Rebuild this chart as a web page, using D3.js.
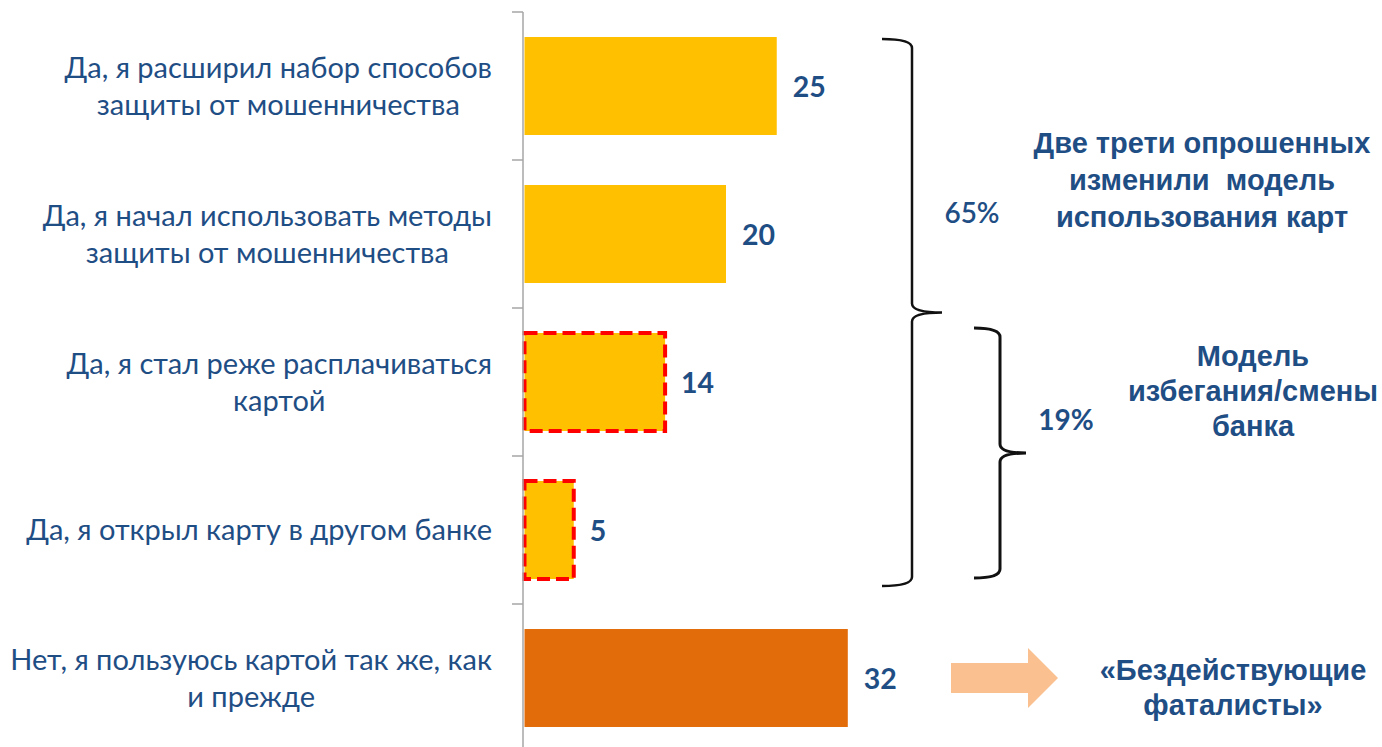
<!DOCTYPE html>
<html>
<head>
<meta charset="utf-8">
<script src="https://cdn.jsdelivr.net/npm/d3@7/dist/d3.min.js"></script>
<style>
  html, body { margin: 0; padding: 0; background: #fff; }
  svg { display: block; }
  text { white-space: pre; }
</style>
</head>
<body>
<svg id="chart" width="1382" height="747"></svg>
<script>
// Survey answers, top to bottom
const categories = [
  ["Да, я расширил набор способов", "защиты от мошенничества"],
  ["Да, я начал использовать методы", "защиты от мошенничества"],
  ["Да, я стал реже расплачиваться", "картой"],
  ["Да, я открыл карту в другом банке"],
  ["Нет, я пользуюсь картой так же, как", "и прежде"]
];
const values = [25, 20, 14, 5, 32];
const groups = ["change", "change", "avoid", "avoid", "none"];

// Brace annotations: which answers they cover
const braceSpans = [[0, 3], [2, 3]];
const bracePcts = ["65%", "19%"];
const noteChange = ["Две трети опрошенных", "изменили  модель", "использования карт"];
const noteAvoid = ["Модель", "избегания/смены", "банка"];
const noteNone = ["«Бездействующие", "фаталисты»"];

const svg = d3.select('#chart');
const navy = '#1F4E85';

const y = d3.scaleBand()
  .domain(d3.range(categories.length))
  .range([12, 752])
  .paddingInner(0.338)
  .paddingOuter(0.169);

const x = d3.scaleLinear()
  .domain([0, 40])
  .range([523, 929]);

const fill = d => d === 'none' ? '#E36C0A' : '#FFC000';

// Bars
svg.append('g')
  .selectAll('rect')
  .data(values)
  .join('rect')
    .attr('x', x(0) + 1.5)
    .attr('y', (d, i) => y(i))
    .attr('width', d => x(d) - x(0) - 1.5)
    .attr('height', y.bandwidth())
    .attr('fill', (d, i) => fill(groups[i]))
    .attr('stroke', (d, i) => groups[i] === 'avoid' ? '#FF0000' : 'none')
    .attr('stroke-width', 4)
    .attr('stroke-dasharray', '13 6');

// Category axis (line + ticks between bands)
const step = y.step();
const axis = svg.append('g').attr('stroke', '#A6A6A6').attr('stroke-width', 1.5);
axis.append('line')
  .attr('x1', x(0)).attr('x2', x(0))
  .attr('y1', y.range()[0]).attr('y2', y.range()[1]);
axis.selectAll('line.tick')
  .data(d3.range(categories.length + 1))
  .join('line')
    .attr('class', 'tick')
    .attr('x1', x(0) - 11).attr('x2', x(0))
    .attr('y1', i => y.range()[0] + i * step)
    .attr('y2', i => y.range()[0] + i * step);

// Category labels: lines centred within a block right-aligned to the axis
const labelG = svg.append('g')
  .attr('font-family', 'Lato, "Open Sans", sans-serif')
  .attr('font-size', 29)
  .attr('fill', navy);
categories.forEach((lines, i) => {
  const cy = y(i) + y.bandwidth() / 2;
  const g = labelG.append('g');
  const texts = g.selectAll('text')
    .data(lines)
    .join('text')
      .attr('y', (d, j) => cy + (j - (lines.length - 1) / 2) * 37)
      .attr('dy', '0.35em')
      .attr('text-anchor', 'middle')
      .text(d => d);
  const maxW = d3.max(texts.nodes(), n => n.getComputedTextLength());
  texts.attr('x', 492 - maxW / 2);
});

// Value labels
svg.append('g')
  .selectAll('text')
  .data(values)
  .join('text')
    .attr('x', d => x(d) + 16)
    .attr('y', (d, i) => y(i) + y.bandwidth() / 2 + 1)
    .attr('dy', '0.35em')
    .attr('font-family', 'Lato, sans-serif')
    .attr('font-weight', 700)
    .attr('font-size', 28.5)
    .attr('fill', navy)
    .text(d => d);

// Curly braces
function bracePath(x0, x1, x2, y0, y1) {
  const ym = (y0 + y1) / 2, r = 9;
  return `M${x0},${y0} Q${x1},${y0} ${x1},${y0 + r} L${x1},${ym - r} ` +
    `Q${x1},${ym} ${x2},${ym} Q${x1},${ym} ${x1},${ym + r} ` +
    `L${x1},${y1 - r} Q${x1},${y1} ${x0},${y1}`;
}
const braceX = [[882, 912, 942], [974, 1000, 1026]];
const braceY = braceSpans.map(([a, b], k) => [
  y(a) + (k === 0 ? 2 : -5),
  y(b) + y.bandwidth() + (k === 0 ? 7 : -1)
]);
svg.append('g')
  .selectAll('path')
  .data(braceSpans)
  .join('path')
    .attr('d', (d, k) => bracePath(...braceX[k], ...braceY[k]))
    .attr('fill', 'none')
    .attr('stroke', '#111')
    .attr('stroke-width', (d, k) => k === 0 ? 2.5 : 3);

const pctPos = [[972, 213], [1066, 420]];
svg.append('g')
  .selectAll('text')
  .data(bracePcts)
  .join('text')
    .attr('x', (d, k) => pctPos[k][0])
    .attr('y', (d, k) => pctPos[k][1])
    .attr('dy', '0.35em')
    .attr('text-anchor', 'middle')
    .attr('font-family', 'Lato, sans-serif')
    .attr('font-weight', (d, k) => k === 0 ? 600 : 700)
    .attr('font-size', 28)
    .attr('fill', navy)
    .text(d => d);

// Bold side notes
function note(lines, cx, cy0, lh) {
  svg.append('g')
    .selectAll('text')
    .data(lines)
    .join('text')
      .attr('x', cx)
      .attr('y', (d, j) => cy0 + j * lh)
      .attr('dy', '0.35em')
      .attr('text-anchor', 'middle')
      .attr('font-family', '"Liberation Sans", Arial, sans-serif')
      .attr('font-weight', 700)
      .attr('font-size', 29)
      .attr('fill', navy)
      .text(d => d);
}
note(noteChange, 1202, 143, 37);
note(noteAvoid, 1253, 356, 35);
note(noteNone, 1233, 670, 35);

// Arrow toward the "fatalists" note
const ay = y(4) + y.bandwidth() / 2;
svg.append('path')
  .attr('d', `M951,${ay - 15} L1028,${ay - 15} L1028,${ay - 30} L1058,${ay} ` +
    `L1028,${ay + 30} L1028,${ay + 15} L951,${ay + 15} Z`)
  .attr('fill', '#FAC090');
</script>
</body>
</html>
